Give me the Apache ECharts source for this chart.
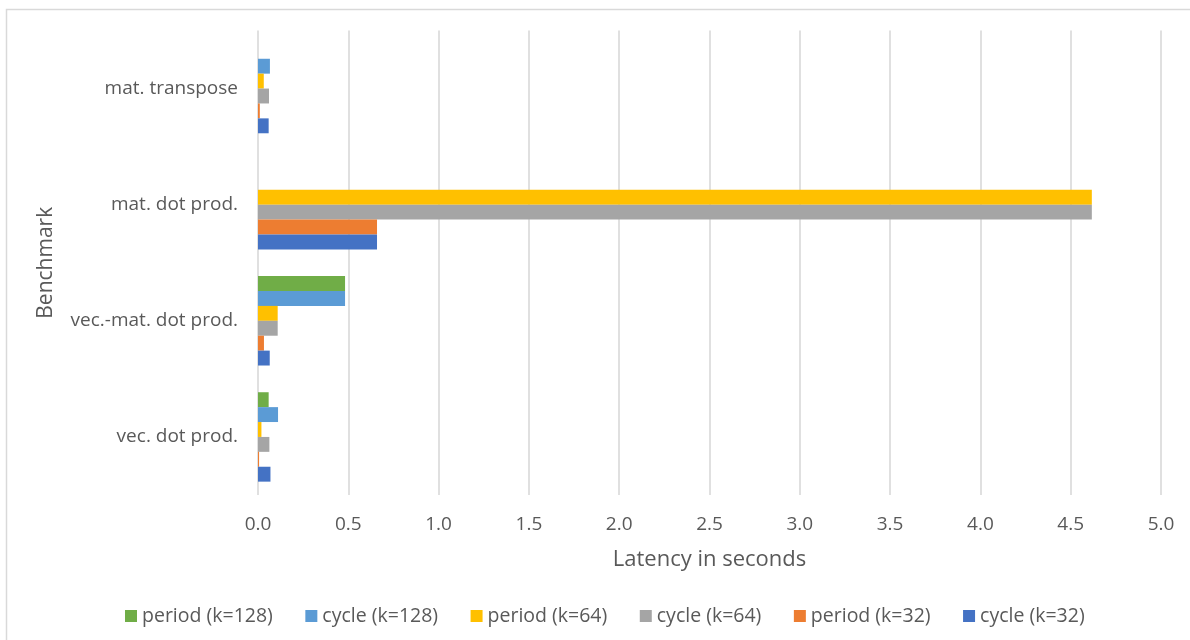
<!DOCTYPE html>
<html>
<head>
<meta charset="utf-8">
<script src="https://cdn.jsdelivr.net/npm/echarts@6/dist/echarts.min.js"></script>
<style>
  html, body { margin: 0; padding: 0; background: #ffffff; }
  #chart { width: 1190px; height: 640px; }
</style>
</head>
<body>
<div id="chart"></div>
<script>
// Benchmarks, bottom to top on the category axis
const categories = ['vec. dot prod.', 'vec.-mat. dot prod.', 'mat. dot prod.', 'mat. transpose'];

// Latency in seconds per benchmark (same order as categories); null = not measured
const periodK128 = [0.059, 0.482, null, null];
const cycleK128  = [0.111, 0.482, null, 0.066];
const periodK64  = [0.019, 0.109, 4.617, 0.032];
const cycleK64   = [0.063, 0.109, 4.617, 0.061];
const periodK32  = [0.006, 0.033, 0.659, 0.010];
const cycleK32   = [0.069, 0.065, 0.659, 0.059];

const seriesNames = ['period (k=128)', 'cycle (k=128)', 'period (k=64)', 'cycle (k=64)', 'period (k=32)', 'cycle (k=32)'];
const seriesData  = [periodK128, cycleK128, periodK64, cycleK64, periodK32, cycleK32];
const seriesColors = ['#70AD47', '#5B9BD5', '#FFC000', '#A5A5A5', '#ED7D31', '#4472C4'];

const xTicks = { min: 0, max: 5, interval: 0.5 };

const textColor = '#595959';
const fontFamily = '"Open Sans", "Noto Sans", sans-serif';

const chart = echarts.init(document.getElementById('chart'), null, { renderer: 'canvas' });

chart.setOption({
  backgroundColor: '#ffffff',
  animation: false,
  color: seriesColors,
  textStyle: { fontFamily: fontFamily, color: textColor },
  graphic: [{
    type: 'rect',
    shape: { x: 6.5, y: 9.5, width: 1400, height: 900 },
    style: { fill: 'none', stroke: '#d9d9d9', lineWidth: 1.5 },
    silent: true
  }],
  grid: { left: 258, right: 29, top: 30.5, bottom: 145, containLabel: false },
  legend: {
    bottom: 9,
    left: 120,
    itemWidth: 12,
    itemHeight: 12,
    itemGap: 32.5,
    icon: 'rect',
    textStyle: { fontSize: 19.5, color: textColor, fontFamily: fontFamily },
    data: seriesNames
  },
  xAxis: {
    type: 'value',
    min: xTicks.min,
    max: xTicks.max,
    interval: xTicks.interval,
    name: 'Latency in seconds',
    nameLocation: 'middle',
    nameGap: 54,
    nameTextStyle: { fontSize: 22, color: textColor, fontFamily: fontFamily },
    axisLine: { show: false },
    axisTick: { show: false },
    axisLabel: {
      fontSize: 19, color: textColor, margin: 20,
      formatter: v => v.toFixed(1)
    },
    splitLine: { show: true, lineStyle: { color: '#e0e0e0', width: 2 } }
  },
  yAxis: {
    type: 'category',
    data: categories,
    name: 'Benchmark',
    nameLocation: 'middle',
    nameGap: 201,
    nameRotate: 90,
    nameTextStyle: { fontSize: 21, color: textColor, fontFamily: fontFamily },
    axisLine: { show: false },
    axisTick: { show: false },
    axisLabel: { fontSize: 19, color: textColor, margin: 20 },
    splitLine: { show: false }
  },
  series: seriesNames.map((name, i) => ({
    name: name,
    type: 'bar',
    data: seriesData[i],
    barGap: '0%',
    barCategoryGap: '23%',
    itemStyle: { color: seriesColors[i] }
  }))
});
</script>
</body>
</html>
